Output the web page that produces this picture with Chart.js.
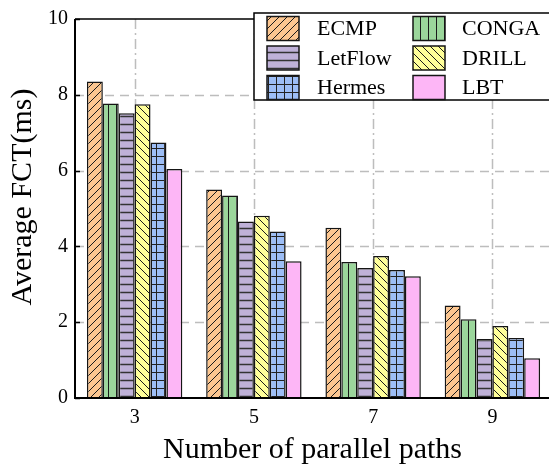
<!DOCTYPE html>
<html><head><meta charset="utf-8">
<script src="https://cdn.jsdelivr.net/npm/chart.js@4/dist/chart.umd.min.js"></script>
<style>
html,body{margin:0;padding:0;overflow:hidden;background:#fff;width:549px;height:468px}
#wrap{width:556px;height:468px;position:relative}
</style>
</head><body><div id="wrap"><canvas id="c" width="556" height="468"></canvas></div>
<script>
const categories = ['3', '5', '7', '9'];
const seriesNames = ['ECMP', 'CONGA', 'LetFlow', 'DRILL', 'Hermes', 'LBT'];
const ecmp    = [8.35, 5.50, 4.49, 2.44];
const conga   = [7.77, 5.34, 3.59, 2.08];
const letflow = [7.51, 4.66, 3.43, 1.56];
const drill   = [7.75, 4.81, 3.75, 1.90];
const hermes  = [6.74, 4.39, 3.38, 1.58];
const lbt     = [6.04, 3.61, 3.21, 1.05];
const yTickValues = [0, 2, 4, 6, 8, 10];
const xTitle = 'Number of parallel paths';
const yTitle = 'Average FCT(ms)';

const SERIF = '"Liberation Serif", "Times New Roman", serif';
const seriesColors = ['#FCC690', '#9BD69B', '#BFB1D8', '#FFFF99', '#9DBEF6', '#FDB6F6'];
const seriesHatch = ['slash', 'vert', 'horiz', 'back', 'grid', 'none'];

function makePattern(bg, kind) {
  const s = 8;
  const c = document.createElement('canvas');
  c.width = s; c.height = s;
  const g = c.getContext('2d');
  g.fillStyle = bg; g.fillRect(0, 0, s, s);
  g.strokeStyle = '#1a1a1a';
  g.lineWidth = 1;
  g.beginPath();
  if (kind === 'slash') {
    g.moveTo(-1, s + 1); g.lineTo(s + 1, -1);
    g.moveTo(-1, 1); g.lineTo(1, -1);
    g.moveTo(s - 1, s + 1); g.lineTo(s + 1, s - 1);
  } else if (kind === 'back') {
    g.moveTo(-1, -1); g.lineTo(s + 1, s + 1);
    g.moveTo(s - 1, -1); g.lineTo(s + 1, 1);
    g.moveTo(-1, s - 1); g.lineTo(1, s + 1);
  } else if (kind === 'vert') {
    g.moveTo(4.5, 0); g.lineTo(4.5, s);
  } else if (kind === 'horiz') {
    g.lineWidth = 1.5; g.strokeStyle = '#333';
    g.moveTo(0, 4.5); g.lineTo(s, 4.5);
  } else if (kind === 'grid') {
    g.strokeStyle = '#222';
    g.moveTo(4.5, 0); g.lineTo(4.5, s);
    g.moveTo(0, 4.5); g.lineTo(s, 4.5);
  }
  g.stroke();
  return kind === 'none' ? bg : g.createPattern(c, 'repeat');
}

const seriesData = [ecmp, conga, letflow, drill, hermes, lbt];
const fills = seriesColors.map((col, i) => makePattern(col, seriesHatch[i]));

const datasets = seriesNames.map((name, i) => ({
  label: name,
  data: seriesData[i],
  backgroundColor: fills[i],
  borderColor: '#151515',
  borderWidth: 1.5,
  categoryPercentage: 0.8,
  barPercentage: 1.0
}));

const decor = {
  id: 'decor',
  beforeDatasetsDraw(chart) {
    const { ctx, chartArea: a, scales: { x, y } } = chart;
    ctx.save();
    ctx.strokeStyle = '#BDBDBD';
    ctx.lineWidth = 1.5;
    ctx.setLineDash([9, 6]);
    yTickValues.forEach(v => {
      if (v === 0 || v === 10) return;
      const py = Math.round(y.getPixelForValue(v)) + 0.5;
      ctx.beginPath(); ctx.moveTo(a.left, py); ctx.lineTo(a.right, py); ctx.stroke();
    });
    ctx.setLineDash([10, 4, 2, 4]);
    categories.forEach((c, i) => {
      const px = Math.round(x.getPixelForValue(i)) + 0.5;
      ctx.beginPath(); ctx.moveTo(px, a.top); ctx.lineTo(px, a.bottom); ctx.stroke();
    });
    ctx.restore();
  },
  afterDatasetsDraw(chart) {
    const { ctx, chartArea: a, scales: { y } } = chart;
    ctx.save();
    ctx.strokeStyle = '#000';
    // frame
    ctx.lineWidth = 1.5;
    ctx.beginPath();
    ctx.moveTo(a.left, a.top); ctx.lineTo(a.right, a.top); ctx.lineTo(a.right, a.bottom);
    ctx.stroke();
    ctx.lineWidth = 2;
    ctx.beginPath();
    ctx.moveTo(a.left, a.top); ctx.lineTo(a.left, a.bottom); ctx.lineTo(a.right, a.bottom);
    ctx.stroke();
    // inward ticks
    ctx.lineWidth = 1.5;
    yTickValues.forEach(v => {
      const py = Math.round(y.getPixelForValue(v)) + 0.5;
      ctx.beginPath(); ctx.moveTo(a.left, py); ctx.lineTo(a.left + 5, py); ctx.stroke();
    });
    // legend
    const lx = 254, ly = 13, lw = 310, lh = 87;
    ctx.fillStyle = '#fff';
    ctx.fillRect(lx, ly, lw, lh);
    ctx.lineWidth = 1.5;
    ctx.strokeRect(lx, ly, lw, lh);
    const colSw = [267, 413], colTx = [317, 462], rowY = [28.5, 58, 87.5];
    ctx.font = '22px ' + SERIF;
    ctx.textBaseline = 'middle';
    ctx.textAlign = 'left';
    seriesNames.forEach((name, i) => {
      const col = i % 2, row = Math.floor(i / 2);
      const sx = colSw[col], sy = rowY[row] - 12;
      ctx.fillStyle = fills[i];
      ctx.fillRect(sx, sy, 32, 24);
      ctx.strokeStyle = '#151515';
      ctx.lineWidth = 1.5;
      ctx.strokeRect(sx, sy, 32, 24);
      ctx.fillStyle = '#000';
      ctx.fillText(name, colTx[col], rowY[row] + 1);
    });
    ctx.restore();
  },
  afterDraw(chart) {
    const { ctx, chartArea: a } = chart;
    ctx.save();
    ctx.fillStyle = '#000';
    ctx.font = '30px ' + SERIF;
    ctx.textAlign = 'center';
    ctx.textBaseline = 'alphabetic';
    ctx.fillText(xTitle, (a.left + a.right) / 2 - 1, 458);
    ctx.translate(23, 197);
    ctx.rotate(-Math.PI / 2);
    ctx.textBaseline = 'middle';
    ctx.fillText(yTitle, 0, 0);
    ctx.restore();
  }
};

new Chart(document.getElementById('c'), {
  type: 'bar',
  data: { labels: categories, datasets },
  options: {
    responsive: false,
    animation: false,
    layout: { padding: { left: 0, top: 13, right: 4, bottom: 0 } },
    plugins: { legend: { display: false }, tooltip: { enabled: false }, title: { display: false } },
    scales: {
      x: {
        grid: { display: false, drawTicks: false },
        border: { display: false },
        ticks: { color: '#000', font: { family: SERIF, size: 20 }, padding: 8, maxRotation: 0 },
        afterFit(s) { s.height = 70; }
      },
      y: {
        min: 0, max: 10,
        afterBuildTicks(s) { s.ticks = yTickValues.map(v => ({ value: v })); },
        grid: { display: false, drawTicks: false },
        border: { display: false },
        ticks: { color: '#000', font: { family: SERIF, size: 20 }, padding: 7 },
        afterFit(s) { s.width = 75; }
      }
    }
  },
  plugins: [decor]
});
</script>
</body></html>
